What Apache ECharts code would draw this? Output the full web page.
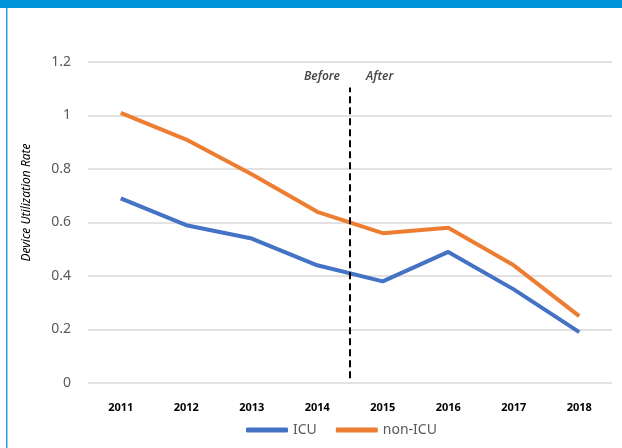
<!DOCTYPE html>
<html><head><meta charset="utf-8">
<script src="https://cdn.jsdelivr.net/npm/echarts@6/dist/echarts.min.js"></script>
<style>html,body{margin:0;padding:0;background:#fff}#c{width:622px;height:448px}</style>
</head><body><div id="c"></div>
<script>
const years = ['2011','2012','2013','2014','2015','2016','2017','2018'];
const icu = [0.69, 0.59, 0.54, 0.44, 0.38, 0.49, 0.35, 0.19];
const nonIcu = [1.01, 0.91, 0.78, 0.64, 0.56, 0.58, 0.44, 0.25];
const yTicks = [0, 0.2, 0.4, 0.6, 0.8, 1, 1.2];
const dividerX = 3.5;
const dividerY = [0.018, 1.105];
const dividerLabelY = 1.145;

const chart = echarts.init(document.getElementById('c'), null, {renderer:'canvas'});
const font = 'Noto Sans';
chart.setOption({
  animation:false,
  graphic:[
    {type:'rect', shape:{x:0,y:0,width:622,height:8}, style:{fill:'#0095DA'}, z:100},
    {type:'rect', shape:{x:6,y:8,width:1.5,height:440}, style:{fill:'#2a9fd8'}, z:100}
  ],
  grid:{left:88, right:10, top:62, bottom:65},
  legend:{
    data:['ICU','non-ICU'], left:241, top:418, icon:'roundRect',
    itemWidth:42, itemHeight:5, itemGap:19,
    textStyle:{fontFamily:font, fontSize:14, color:'#595959'}
  },
  xAxis:[
    {type:'category', data:years, boundaryGap:true,
     axisLine:{show:false}, axisTick:{show:false},
     axisLabel:{fontFamily:font, fontSize:11, fontWeight:'bold', color:'#000', margin:19}},
    {type:'value', min:-0.5, max:7.5, show:false}
  ],
  yAxis:{
    type:'value', min:yTicks[0], max:yTicks[yTicks.length-1], interval:0.2,
    name:'Device Utilization Rate', nameLocation:'middle', nameGap:55,
    nameTextStyle:{fontFamily:font, fontSize:12, fontStyle:'italic', color:'#000', padding:[0,0,0,40]},
    axisLabel:{fontFamily:font, fontSize:14, color:'#595959', margin:17},
    splitLine:{lineStyle:{color:'#d9d9d9', width:1.5}},
    axisLine:{show:false}, axisTick:{show:false}
  },
  series:[
    {name:'ICU', type:'line', data:icu, showSymbol:false, symbol:'none',
     lineStyle:{color:'#4472C4', width:4}, itemStyle:{color:'#4472C4'}},
    {name:'non-ICU', type:'line', data:nonIcu, showSymbol:false, symbol:'none',
     lineStyle:{color:'#ED7D31', width:4}, itemStyle:{color:'#ED7D31'}},
    {name:'divider', type:'line', xAxisIndex:1, symbol:'none',
     data:dividerY.map(v=>[dividerX, v]),
     lineStyle:{color:'#000', width:2, type:[7,4]}, silent:true},
    {name:'labels', type:'scatter', xAxisIndex:1, symbolSize:0, silent:true,
     data:[
       {value:[dividerX, dividerLabelY], label:{show:true, position:'left', distance:10, formatter:'Before'}},
       {value:[dividerX, dividerLabelY], label:{show:true, position:'right', distance:16, formatter:'After'}}
     ],
     label:{fontFamily:font, fontSize:12, fontStyle:'italic', fontWeight:600, color:'#1a1a1a'}}
  ]
});
</script></body></html>
